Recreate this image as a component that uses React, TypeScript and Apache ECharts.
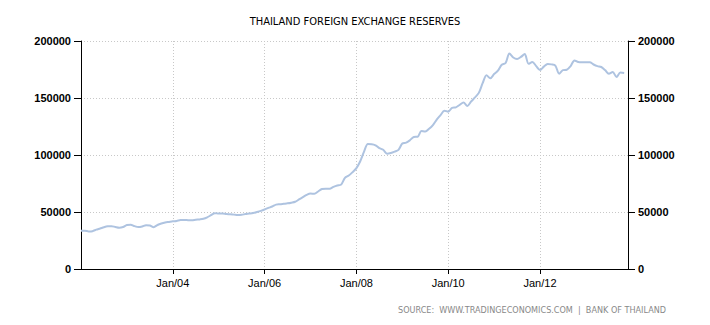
import React, { useEffect, useRef } from "react";
import * as echarts from "echarts";

const startYear = 2002;
const monthCount = 144; // Jan 2002 .. Dec 2013
const categories: string[] = [];
for (let i = 0; i < monthCount; i++) {
  const y = startYear + Math.floor(i / 12);
  const m = i % 12;
  categories.push(`${m + 1}/${y}`);
}

// Reserves, millions USD (Jan 2002 .. Nov 2013)
const reserves: number[] = [
  33500, 33500, 33000, 33200, 34500, 35500, 36600, 37400, 37600, 36800, 36200, 36800,
  38600, 38800, 37600, 36800, 37300, 38400, 38200, 36700, 38600, 39900, 40800, 41300,
  41800, 42200, 42900, 43000, 42800, 42700, 43200, 43500, 44000, 45300, 47200, 49000,
  48600, 48700, 48200, 48000, 47700, 47400, 47600, 48200, 48600, 49100, 50000, 51000,
  52200, 53600, 54800, 56500, 56800, 57200, 57600, 58200, 59000, 61000, 63000, 65000,
  66200, 66000, 68000, 70200, 70500, 70400, 72000, 73200, 74000, 80000, 82000, 85000,
  88500, 94500, 103000, 109600, 109500, 108500, 106000, 104600, 101200, 101800, 103000, 104500,
  110000, 110800, 113000, 115800, 116000, 121000, 120600, 123000, 126300, 131000, 135000, 138900,
  138000, 141400, 141800, 144000, 146000, 143000, 147000, 150500, 154500, 163000, 170000, 167300,
  171000, 174000, 179200, 180700, 189000, 185500, 184200, 186000, 188500, 180000, 181600, 178000,
  174500, 177500, 179800, 179500, 178500, 171300, 174500, 174800, 178000, 183000, 181500, 181300,
  181300, 181300, 179400, 178000, 177200, 174500, 171300, 172800, 168400, 172300, 172000,
];

const yTicks = [0, 50000, 100000, 150000, 200000];
const titleText = "THAILAND FOREIGN EXCHANGE RESERVES";
const sourceText = "SOURCE:  WWW.TRADINGECONOMICS.COM  |  BANK OF THAILAND";

const isLabelIndex = (i: number) => {
  const y = startYear + Math.floor(i / 12);
  return i % 12 === 0 && y % 2 === 0 && y > startYear;
};

export default function App() {
  const ref = useRef<HTMLDivElement>(null);
  useEffect(() => {
    if (!ref.current) return;
    document.body.style.margin = "0";
    const chart = echarts.init(ref.current, undefined, { renderer: "svg" });
    const yAxisCommon = {
      type: "value" as const,
      min: yTicks[0],
      max: yTicks[yTicks.length - 1],
      interval: 50000,
      axisLine: { show: true, lineStyle: { color: "#000", width: 1 } },
      axisTick: { show: true, length: 7, lineStyle: { color: "#000" } },
      axisLabel: {
        color: "#000",
        fontSize: 11,
        fontWeight: "bold",
        fontFamily: "Liberation Sans, Arial, sans-serif",
        margin: 10,
        formatter: (v: number) => String(v),
      },
    };
    chart.setOption({
      animation: false,
      title: {
        text: titleText,
        left: "center",
        top: 11,
        textStyle: {
          fontSize: 11,
          fontWeight: "normal",
          color: "#000",
          fontFamily: "DejaVu Sans Condensed, DejaVu Sans, sans-serif",
        },
      },
      grid: { left: 81, right: 82, top: 41, bottom: 56, containLabel: false },
      xAxis: {
        type: "category",
        data: categories,
        boundaryGap: false,
        axisLine: { show: true, lineStyle: { color: "#000", width: 1 } },
        axisTick: {
          show: true,
          length: 5,
          interval: (i: number) => isLabelIndex(i),
          lineStyle: { color: "#000" },
        },
        axisLabel: {
          interval: (i: number) => isLabelIndex(i),
          formatter: (v: string) => {
            const [, y] = v.split("/");
            return `Jan/${y.slice(2)}`;
          },
          color: "#000",
          fontSize: 11,
          fontFamily: "Liberation Sans, Arial, sans-serif",
          margin: 8,
        },
        splitLine: {
          show: true,
          interval: (i: number) => isLabelIndex(i),
          lineStyle: { color: "#c8c8c8", type: [1, 2], width: 1 },
        },
      },
      yAxis: [
        {
          ...yAxisCommon,
          position: "left",
          splitLine: { show: true, lineStyle: { color: "#c8c8c8", type: [1, 2], width: 1 } },
        },
        {
          ...yAxisCommon,
          position: "right",
          splitLine: { show: false },
        },
      ],
      series: [
        {
          type: "line",
          data: reserves,
          yAxisIndex: 0,
          showSymbol: false,
          smooth: 0.3,
          lineStyle: { color: "#aec3e0", width: 2 },
          itemStyle: { color: "#aec3e0" },
        },
      ],
      graphic: [
        {
          type: "text",
          right: 44,
          top: 305,
          style: {
            text: sourceText,
            fill: "#888",
            fontSize: 9,
            fontFamily: "DejaVu Sans Condensed, DejaVu Sans, sans-serif",
          },
        },
      ],
    });
    return () => chart.dispose();
  }, []);
  return <div ref={ref} style={{ width: 710, height: 325 }} />;
}
